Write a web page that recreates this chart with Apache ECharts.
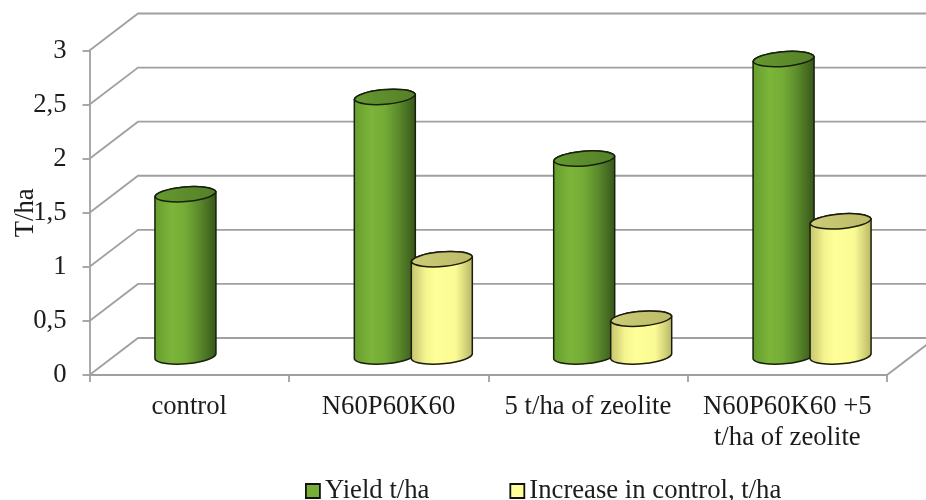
<!DOCTYPE html>
<html>
<head>
<meta charset="utf-8">
<style>html,body{margin:0;padding:0;background:#fff}#c{width:926px;height:500px}</style>
<script src="https://cdn.jsdelivr.net/npm/echarts@6/dist/echarts.min.js"></script>
</head>
<body>
<div id="c"></div>
<script>
const categories = ['control', 'N60P60K60', '5 t/ha of zeolite', 'N60P60K60 +5\nt/ha of zeolite'];
const yieldValues = [1.5, 2.4, 1.83, 2.75];
const increaseValues = [null, 0.9, 0.35, 1.25];
const yTicks = [0, 0.5, 1, 1.5, 2, 2.5, 3];
const seriesNames = ['Yield t/ha', 'Increase in control, t/ha'];

const DEPTH = [48.5, -37];
const AXIS_COL = '#a0a0a0';
const TEXT_COL = '#1c1c1c';
const FONT = '"Liberation Serif","Times New Roman",serif';
const FS = 26.7;
const RX = 30.7, RY = 8, TILT = -4.7, DX = 30.5, DY = 2.5;

const grad = (stops) => new echarts.graphic.LinearGradient(0, 0, 1, 0,
  stops.map(s => ({offset: s[0], color: s[1]})));
const greenBody = () => grad([[0,'#659c2e'],[0.28,'#7cb53a'],[0.5,'#74ab36'],[0.72,'#5b8a2b'],[1,'#36541a']]);
const yellowBody = () => grad([[0,'#c2c26c'],[0.25,'#f5f590'],[0.4,'#ffff99'],[0.72,'#fbfb96'],[1,'#b5b565']]);
const greenTop = () => grad([[0,'#659a30'],[1,'#557f28']]);
const yellowTop = () => grad([[0,'#cccc78'],[1,'#bcbc68']]);

function cylinder(bodyFill, topFill, edge, offset) {
  return function (params, api) {
    const cat = api.value(0), v = api.value(1);
    const base = api.coord([cat, 0]);
    const top = api.coord([cat, v]);
    const cx = base[0] + offset;
    const yb = base[1] + DEPTH[1] / 2;
    const yt = top[1] + DEPTH[1] / 2;
    const arc = `A ${RX} ${RY} ${TILT}`;
    const body = `M ${cx-DX} ${yt+DY} L ${cx-DX} ${yb+DY} ${arc} 0 0 ${cx+DX} ${yb-DY} L ${cx+DX} ${yt-DY} ${arc} 0 0 ${cx-DX} ${yt+DY} Z`;
    const cap = `M ${cx-DX} ${yt+DY} ${arc} 0 0 ${cx+DX} ${yt-DY} ${arc} 0 0 ${cx-DX} ${yt+DY} Z`;
    return {
      type: 'group',
      children: [
        {type: 'path', shape: {pathData: body}, style: {fill: bodyFill(), stroke: edge, lineWidth: 1.5}},
        {type: 'path', shape: {pathData: cap}, style: {fill: topFill(), stroke: edge, lineWidth: 1.5}}
      ]
    };
  };
}

function wallLine(params, api) {
  const v = api.value(0);
  const p0 = api.coord([0, v]);
  const left = api.coord([0, v])[0] - api.size([1, 0])[0] / 2;
  const right = left + api.size([1, 0])[0] * categories.length;
  return {
    type: 'polyline',
    shape: {points: [[left, p0[1]], [left + DEPTH[0], p0[1] + DEPTH[1]], [right + DEPTH[0], p0[1] + DEPTH[1]]]},
    style: {fill: 'none', stroke: AXIS_COL, lineWidth: 1.8}
  };
}
function floorEdge(params, api) {
  const p0 = api.coord([0, 0]);
  const band = api.size([1, 0])[0];
  const right = p0[0] - band / 2 + band * categories.length;
  return {
    type: 'line',
    shape: {x1: right, y1: p0[1], x2: right + DEPTH[0], y2: p0[1] + DEPTH[1]},
    style: {stroke: AXIS_COL, lineWidth: 1.8}
  };
}

const toData = (arr) => arr.map((v, i) => [i, v]).filter(d => d[1] !== null);

const chart = echarts.init(document.getElementById('c'), null, {renderer: 'canvas'});
chart.setOption({
  animation: false,
  backgroundColor: '#ffffff',
  textStyle: {fontFamily: FONT},
  grid: {left: 89.5, top: 50.5, width: 797.5, height: 324.5, containLabel: false, outerBoundsMode: 'none'},
  xAxis: {
    type: 'category', data: categories, boundaryGap: true,
    axisLine: {show: true, lineStyle: {color: AXIS_COL, width: 1.8}},
    axisTick: {show: true, alignWithLabel: false, length: 7, lineStyle: {color: AXIS_COL, width: 1.8}},
    axisLabel: {fontFamily: FONT, fontSize: FS, color: TEXT_COL, margin: 16, lineHeight: 31, interval: 0, hideOverlap: false}
  },
  yAxis: {
    type: 'value', min: 0, max: 3, interval: 0.5,
    name: 'T/ha', nameLocation: 'middle', nameGap: 50, nameRotate: 90, nameMoveOverlap: false,
    nameTextStyle: {fontFamily: FONT, fontSize: FS, color: TEXT_COL},
    axisLine: {show: true, lineStyle: {color: AXIS_COL, width: 1.8}},
    axisTick: {show: true, length: 7, lineStyle: {color: AXIS_COL, width: 1.8}},
    splitLine: {show: false},
    axisLabel: {fontFamily: FONT, fontSize: FS, color: TEXT_COL, margin: 23, formatter: v => String(v).replace('.', ',')}
  },
  legend: {
    left: 305, top: 477.5, padding: 0, itemWidth: 14, itemHeight: 14, itemGap: 80,
    textStyle: {fontFamily: FONT, fontSize: FS, color: TEXT_COL},
    data: [
      {name: seriesNames[0], icon: 'rect', itemStyle: {color: '#76ae37', borderColor: '#111', borderWidth: 1.8}},
      {name: seriesNames[1], icon: 'rect', itemStyle: {color: '#ffff99', borderColor: '#111', borderWidth: 1.8}}
    ]
  },
  series: [
    {type: 'custom', coordinateSystem: 'cartesian2d', silent: true, clip: false, z: 1,
     encode: {x: 1, y: 0}, data: yTicks.map(v => [v, 0]), renderItem: wallLine},
    {type: 'custom', coordinateSystem: 'cartesian2d', silent: true, clip: false, z: 1,
     encode: {x: 0, y: 1}, data: [[0, 0]], renderItem: floorEdge},
    {type: 'custom', name: seriesNames[0], coordinateSystem: 'cartesian2d', clip: false, z: 5,
     encode: {x: 0, y: 1}, data: toData(yieldValues), renderItem: cylinder(greenBody, greenTop, '#17200c', -3.75)},
    {type: 'custom', name: seriesNames[1], coordinateSystem: 'cartesian2d', clip: false, z: 6,
     encode: {x: 0, y: 1}, data: toData(increaseValues), renderItem: cylinder(yellowBody, yellowTop, '#1c1c0a', 53.25)}
  ]
});
</script>
</body>
</html>
